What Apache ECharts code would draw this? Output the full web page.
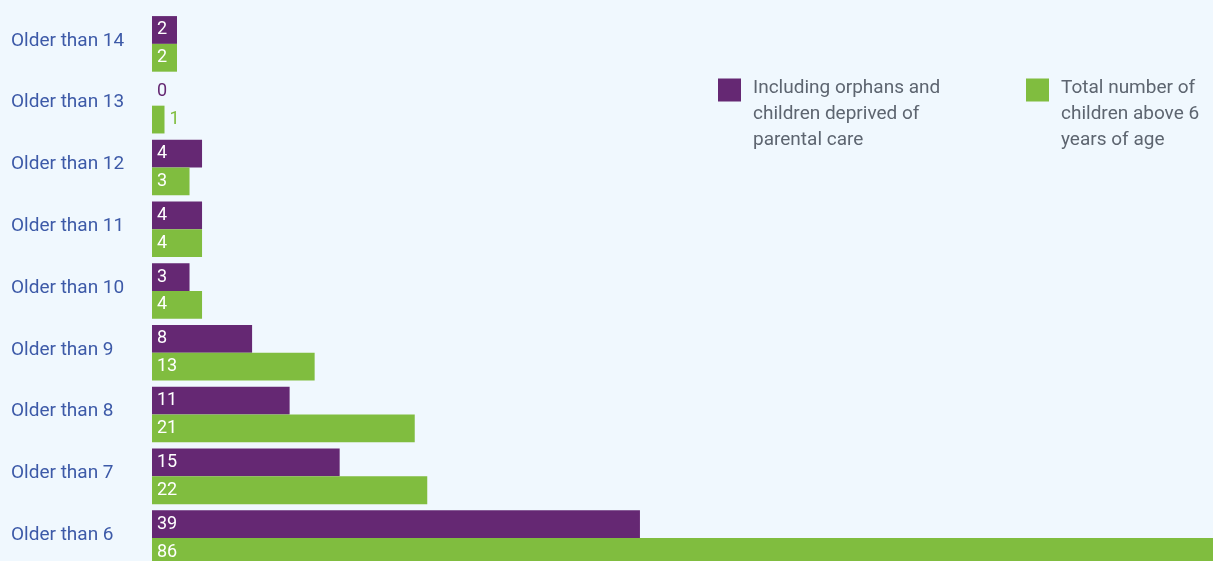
<!DOCTYPE html>
<html><head><meta charset="utf-8">
<script src="https://cdn.jsdelivr.net/npm/echarts@6/dist/echarts.min.js"></script>
<style>html,body{margin:0;padding:0;background:#f0f8fe;overflow:hidden;}#c{width:1280px;height:600px;}</style>
</head><body><div id="c"></div>
<script>
const categories = ['Older than 6','Older than 7','Older than 8','Older than 9','Older than 10','Older than 11','Older than 12','Older than 13','Older than 14'];
const orphans = [39, 15, 11, 8, 3, 4, 4, 0, 2];
const totals = [86, 22, 21, 13, 4, 4, 3, 1, 2];
const nameOrphans = 'Including orphans and\nchildren deprived of\nparental care';
const nameTotals = 'Total number of\nchildren above 6\nyears of age';
const PURPLE = '#652873', GREEN = '#80bd3f';
const FONT = 'Roboto';

function mkData(vals, color) {
  return vals.map(v => {
    if (v === 0) return {value: v, label: {color: color}};
    if (v === 1) return {value: v, label: {position: 'right', color: color}};
    return v;
  });
}
const chart = echarts.init(document.getElementById('c'));
const legendText = {color: '#5d6570', fontSize: 19, fontFamily: FONT, lineHeight: 24,
  rich: {t: {color: '#5d6570', fontSize: 19, fontFamily: FONT, lineHeight: 26, padding: [0, 0, 0, 7]}}};
const legendFmt = name => '\n\n' + name.split('\n').map(l => '{t|' + l + '}').join('\n');
chart.setOption({
  backgroundColor: '#f0f8fe',
  animation: false,
  grid: {left: 152, top: 13, width: 1101, height: 556, containLabel: false},
  legend: [
    {data: [nameOrphans], left: 718, top: 27, padding: 0, itemWidth: 23, itemHeight: 23, icon: 'rect', textStyle: legendText, formatter: legendFmt, selectedMode: false},
    {data: [nameTotals], left: 1026, top: 27, padding: 0, itemWidth: 23, itemHeight: 23, icon: 'rect', textStyle: legendText, formatter: legendFmt, selectedMode: false}
  ],
  xAxis: {type: 'value', min: 0, max: 88, show: false, splitLine: {show: false}},
  yAxis: {
    type: 'category', data: categories,
    axisLine: {show: false}, axisTick: {show: false},
    axisLabel: {align: 'left', margin: 141, color: '#3d5aa8', fontSize: 19, fontFamily: FONT,
      formatter: v => '{a|' + v + '}',
      rich: {a: {color: '#3d5aa8', fontSize: 19, fontFamily: FONT, padding: [0, 0, 6, 0]}}}
  },
  series: [
    {name: nameOrphans, type: 'bar', data: mkData(orphans, PURPLE), barGap: '0%', barCategoryGap: '10%',
     itemStyle: {color: PURPLE},
     label: {show: true, position: 'insideLeft', distance: 5, color: '#fff', fontSize: 18, fontFamily: FONT}},
    {name: nameTotals, type: 'bar', data: mkData(totals, GREEN), barGap: '0%', barCategoryGap: '10%',
     itemStyle: {color: GREEN},
     label: {show: true, position: 'insideLeft', distance: 5, color: '#fff', fontSize: 18, fontFamily: FONT}}
  ]
});
</script></body></html>
